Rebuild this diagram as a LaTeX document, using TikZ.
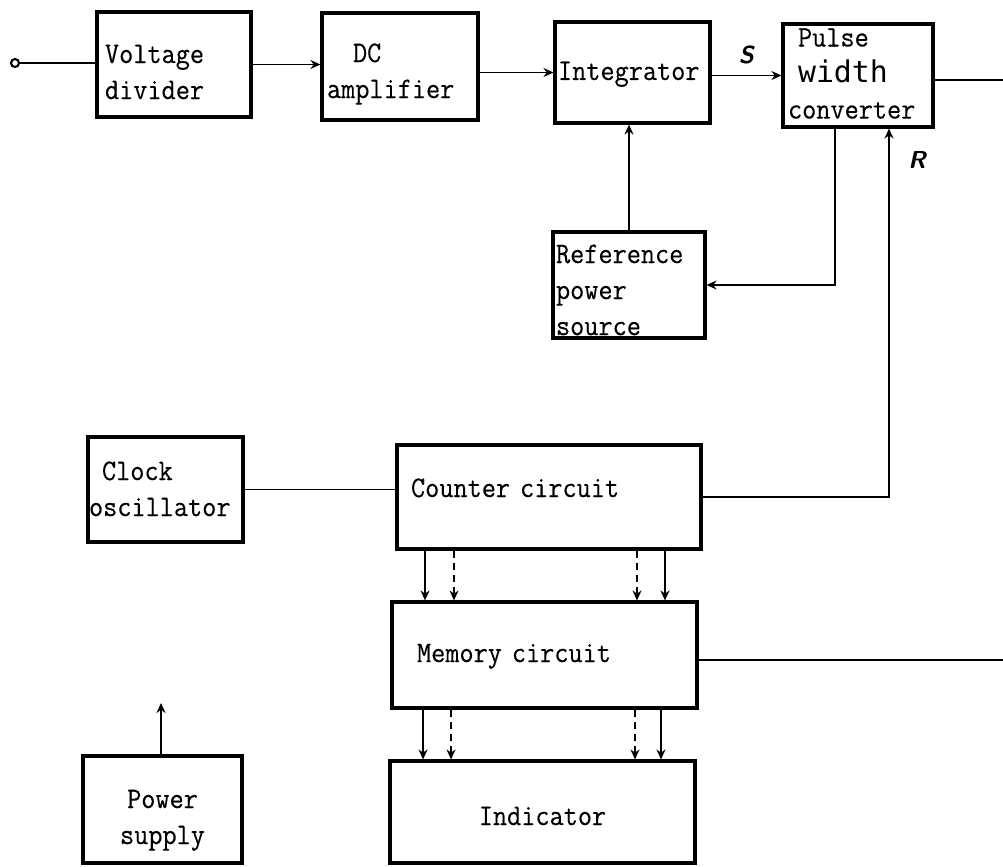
\documentclass[tikz,border=0pt]{standalone}
\usepackage{fontspec}
\newfontfamily\boxfont[FakeStretch=0.92,FakeBold=0.3]{Latin Modern Mono}
\newfontfamily\widthfont{DejaVu Sans Mono}
\usetikzlibrary{arrows.meta,positioning,calc}

\begin{document}
\begin{tikzpicture}[x=0.02cm,y=-0.02cm,
    bx/.style={draw,line width=1.8pt,inner ysep=0pt,align=left,
      font=\boxfont\fontsize{17}{20.5}\selectfont},
    tx/.style n args={2}{text height=#1,text depth=#2},
    ar/.style={-{Stealth[length=2mm,width=1.8mm]},line width=0.9pt},
    dar/.style={ar,dash pattern=on 4pt off 3pt},
    ln/.style={line width=0.9pt},
    sig/.style={font=\sffamily\itshape\bfseries\fontsize{14}{14}\selectfont},
  ]
    \useasboundingbox (0,0) rectangle (1003,866);
    % top row
    \node[bx,tx={0pt}{1.7pt},minimum width=3.08cm,minimum height=2.10cm,text width=2.76cm,inner xsep=0.16cm]
      (vd) at (174,64.5) {Voltage\\divider};
    \node[bx,tx={0pt}{5.1pt},minimum width=3.12cm,minimum height=2.14cm,text width=2.92cm,inner xsep=0.10cm]
      (dc) at (400,66.5) {\hspace*{0.52cm}DC\\amplifier};
    \node[bx,tx={8.5pt}{0pt},minimum width=3.10cm,minimum height=2.02cm,text width=2.98cm,inner xsep=0.06cm]
      (int) at (632.5,72.5) {Integrator};
    \node[bx,tx={0pt}{33pt},minimum width=3.00cm,minimum height=2.06cm,text width=2.80cm,inner xsep=0.10cm]
      (pwc) at (858,75.5)
      {\hspace*{0.2cm}Pulse\\\hspace*{0.2cm}{\widthfont\fontsize{17}{20.5}\selectfont width}\\converter};
    \node[bx,tx={0pt}{25pt},minimum width=3.04cm,minimum height=2.12cm,text width=2.92cm,inner xsep=0.06cm]
      (ref) at (629,285) {Reference\\power\\source};
    % lower part
    \node[bx,tx={0pt}{10.8pt},minimum width=3.10cm,minimum height=2.10cm,text width=3.06cm,inner xsep=0.02cm]
      (clk) at (165.5,489.5) {\hspace*{0.26cm}Clock\\oscillator};
    \node[bx,tx={0pt}{0pt},minimum width=6.08cm,minimum height=2.08cm,text width=5.52cm,inner xsep=0.28cm]
      (cnt) at (549,497) {Counter circuit};
    \node[bx,tx={8pt}{0pt},minimum width=6.10cm,minimum height=2.12cm,text width=5.10cm,inner xsep=0.50cm]
      (mem) at (544.5,655) {Memory circuit};
    \node[bx,tx={14.8pt}{0pt},minimum width=6.10cm,minimum height=2.04cm,text width=5.90cm,inner xsep=0.10cm,align=center]
      (ind) at (542.5,812) {Indicator};
    \node[bx,tx={0pt}{1.7pt},minimum width=3.18cm,minimum height=2.14cm,text width=2.98cm,inner xsep=0.10cm,align=center]
      (ps) at (162.5,809.5) {Power\\supply};
    % terminals
    \node[draw,circle,line width=1.2pt,minimum size=0.16cm,inner sep=0pt] (in) at (15,63) {};
    \coordinate (out1) at (1003,80);
    \coordinate (out2) at (1003,660);
    \coordinate (psout) at (161,703);
    % connectors
    \draw[ln] (in.east) -- (in.east -| vd.west);
    \draw[ar] (vd.east) -- (vd.east -| dc.west);
    \draw[ar] (int.west -| dc.east) -- (int.west);
    \draw[ar] (pwc.west -| int.east) -- (pwc.west) node[sig,midway,above=3pt] (s) {S};
    \draw[ln] (out1 -| pwc.east) -- (out1);
    \draw[ar] (ref.north) -- (ref.north |- int.south);
    \draw[ar] ([xshift=-0.46cm]pwc.south) |- (ref.east);
    \draw[ar] (cnt.east) -| ([xshift=0.62cm]pwc.south);
    \node[sig] (r) at (917,160) {R};
    \draw[ln] (clk.east) -- (clk.east -| cnt.west);
    \foreach \dx/\st in {-2.48/ar,-1.90/dar,1.76/dar,2.32/ar}
      \draw[\st] ([xshift=\dx cm]cnt.south) -- ([xshift=\dx cm]cnt.south |- mem.north);
    \foreach \dx/\st in {-2.43/ar,-1.87/dar,1.81/dar,2.33/ar}
      \draw[\st] ([xshift=\dx cm]mem.south) -- ([xshift=\dx cm]mem.south |- ind.north);
    \draw[ln] (out2 -| mem.east) -- (out2);
    \draw[ar] (ps.north -| psout) -- (psout);
  \end{tikzpicture}
\end{document}
